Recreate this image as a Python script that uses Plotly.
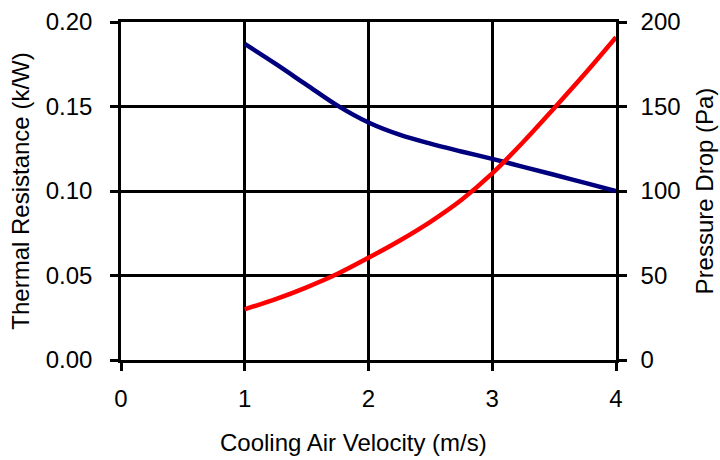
import plotly.graph_objects as go

velocity = [1, 1.25, 1.5, 1.75, 2, 2.25, 2.5, 2.75, 3, 3.25, 3.5, 3.75, 4]
thermal_resistance = [0.187, 0.1752, 0.1628, 0.1505, 0.1405, 0.1333, 0.128, 0.1234,
                      0.119, 0.1143, 0.1096, 0.1048, 0.100]
pressure_drop = [30, 36, 43, 51, 60.5, 70.6, 81.8, 94.7, 110.4, 129, 149, 169.5, 191]

x_ticks = [0, 1, 2, 3, 4]
y1_ticks = [0, 0.05, 0.10, 0.15, 0.20]
y1_labels = ["0.00", "0.05", "0.10", "0.15", "0.20"]
y2_ticks = [0, 50, 100, 150, 200]

fig = go.Figure()
fig.add_trace(go.Scatter(x=velocity, y=thermal_resistance, mode="lines",
                         line=dict(color="#00007f", width=4.5, shape="spline"),
                         showlegend=False))
fig.add_trace(go.Scatter(x=velocity, y=pressure_drop, mode="lines", yaxis="y2",
                         line=dict(color="#ff0000", width=4.5, shape="spline"),
                         showlegend=False))

font = dict(family="Liberation Sans, Arial, sans-serif", size=24, color="black")
axcommon = dict(showgrid=True, gridcolor="black", gridwidth=2.5,
                ticks="outside", ticklen=8, tickwidth=2.5, tickcolor="black",
                showline=True, linecolor="black", linewidth=2.5,
                zeroline=False, tickfont=font, automargin=False)

fig.update_layout(
    width=720, height=460,
    margin=dict(l=121, r=104, t=22, b=100),
    paper_bgcolor="white", plot_bgcolor="white",
    font=font,
    xaxis=dict(range=[0, 4], tickvals=x_ticks, mirror=True, ticklabelstandoff=7,
               **axcommon),
    yaxis=dict(range=[0, 0.2], tickvals=y1_ticks, ticktext=y1_labels, mirror=True,
               ticklabelstandoff=13,
               title=dict(text="Thermal Resistance (k/W)", font=font, standoff=10),
               **axcommon),
    yaxis2=dict(range=[0, 200], tickvals=y2_ticks, overlaying="y", side="right",
                ticklabelstandoff=9,
                title=dict(text="Pressure Drop (Pa)", font=font, standoff=17),
                **axcommon),
    annotations=[dict(text="Cooling Air Velocity (m/s)", xref="paper", yref="paper",
                      x=0.4707, y=-0.245, xanchor="center", yanchor="middle",
                      showarrow=False, font=font)],
)

fig.write_html("out.html")
